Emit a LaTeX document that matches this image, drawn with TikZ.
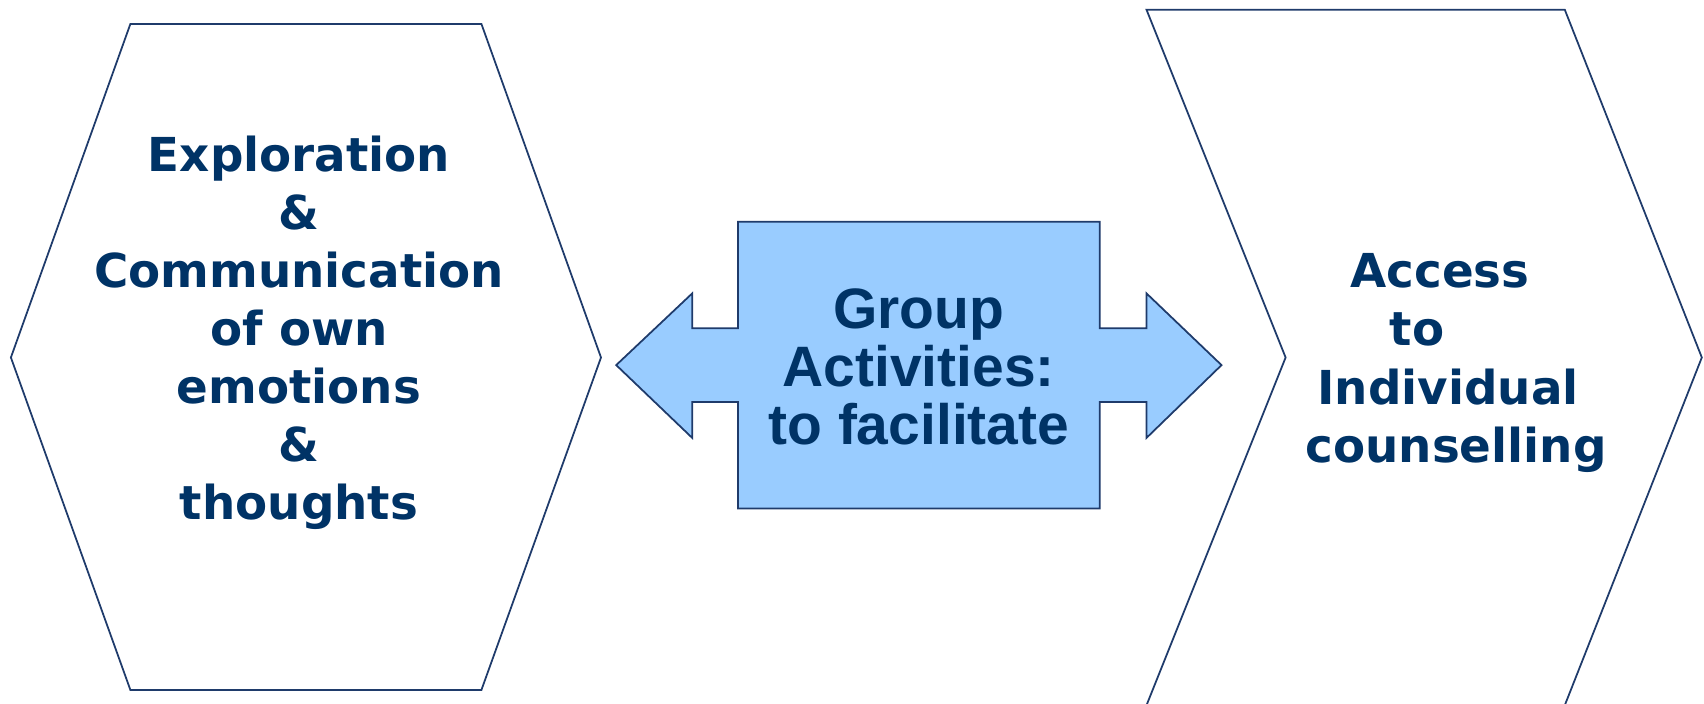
\documentclass[tikz,border=0pt]{standalone}
\usepackage{fontspec}
\usepackage{xcolor}
\usepackage{tikz}
\usetikzlibrary{positioning,calc}
\newfontfamily\heavyfont{DejaVu Sans}
\newfontfamily\armfont{Liberation Sans}
\definecolor{navy}{HTML}{003366}
\definecolor{edgeblue}{HTML}{1F3B6B}
\definecolor{skyfill}{HTML}{99CCFF}
\newcommand{\padright}[1]{\rule{#1}{0pt}}

\begin{document}
\begin{tikzpicture}[x=0.01cm, y=-0.01cm,
    outline/.style={draw=edgeblue, line width=0.5pt, line join=miter},
    sidetext/.style={align=center, inner sep=0pt, text=navy,
        font=\heavyfont\bfseries\fontsize{13.3}{16.5}\selectfont},
    midtext/.style={align=center, inner sep=0pt, text=navy,
        font=\armfont\bfseries\fontsize{16.2}{16.4}\selectfont}]
    \useasboundingbox (0,0) rectangle (1704,704);
    % left hexagon
    \draw[outline, fill=white] (130.4,23.9) -- (481.4,23.9) -- (601,357.5)
        -- (481.4,690) -- (130.4,690) -- (10.9,357.5) -- cycle;
    \node[sidetext] (explore) at (299,333)
        {Exploration\\\&\\Communication\\of own\\emotions\\\&\\thoughts};
    % double arrow in the middle
    \draw[outline, fill=skyfill] (616.2,365.1) -- (692.2,293.4) -- (692.2,328.2)
        -- (737.9,328.2) -- (737.9,221.7) -- (1099.7,221.7) -- (1099.7,328.2)
        -- (1146.5,328.2) -- (1146.5,293.4) -- (1221.5,365.1) -- (1146.5,437.9)
        -- (1146.5,402.1) -- (1099.7,402.1) -- (1099.7,508.6) -- (737.9,508.6)
        -- (737.9,402.1) -- (692.2,402.1) -- (692.2,437.9) -- cycle;
    \node[midtext] (group) at (918.8,367) {Group\\Activities:\\to facilitate};
    % right chevron
    \draw[outline, fill=white] (1146.5,9.8) -- (1564.8,9.8) -- (1701.8,357.5)
        -- (1564.8,705.2) -- (1146.5,705.2) -- (1285.6,357.5) -- cycle;
    \node[sidetext] (access) at (1456,363)
        {Access\padright{0.32cm}\\to\padright{0.78cm}\\Individual\padright{0.16cm}\\counselling};
\end{tikzpicture}
\end{document}
